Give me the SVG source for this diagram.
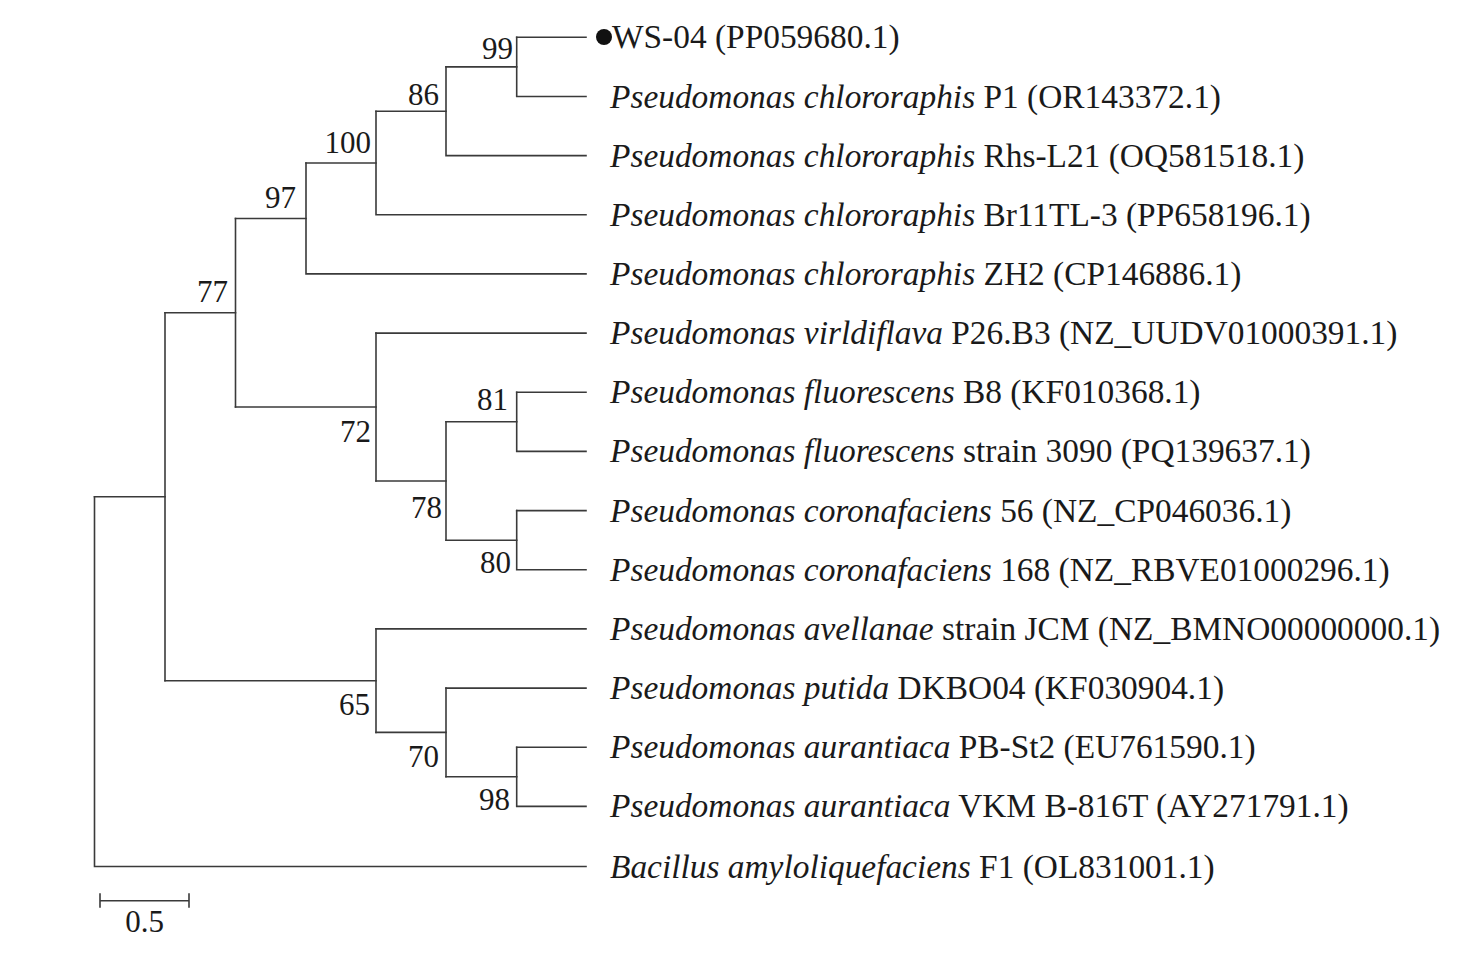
<svg xmlns="http://www.w3.org/2000/svg" width="1457" height="956" viewBox="0 0 1457 956">
<style>
.br{fill:none;stroke:#3a3a3a;stroke-width:1.6;stroke-linecap:square}
.lf{font-family:"Liberation Serif","Times New Roman",serif;font-size:33.4px;fill:#1a1a1a}
.bs{font-family:"Liberation Serif","Times New Roman",serif;font-size:31px;fill:#1a1a1a;text-anchor:end}
.it{font-style:italic}
</style>
<rect width="1457" height="956" fill="#ffffff"/>
<g id="connectors" class="br">
<path d="M94.5,496.7V866.5H586"/>
<path d="M94.5,496.7H165"/>
<path d="M165,312.8V680.7"/>
<path d="M165,312.8H235.5"/>
<path d="M165,680.7H376"/>
<path d="M235.5,218.5V407"/>
<path d="M235.5,218.5H306"/>
<path d="M235.5,407H376"/>
<path d="M306,163V273.9H586"/>
<path d="M306,163H376"/>
<path d="M376,111.3V214.8H586"/>
<path d="M376,111.3H446"/>
<path d="M446,66.9V155.6H586"/>
<path d="M446,66.9H516.7"/>
<path d="M516.7,37.3V96.5H586"/>
<path d="M516.7,37.3H586"/>
<path d="M376,333.1V481"/>
<path d="M376,333.1H586"/>
<path d="M376,481H446"/>
<path d="M446,421.8V540.2"/>
<path d="M446,421.8H516.7"/>
<path d="M446,540.2H516.7"/>
<path d="M516.7,392.3V451.4H586"/>
<path d="M516.7,392.3H586"/>
<path d="M516.7,510.6V569.7H586"/>
<path d="M516.7,510.6H586"/>
<path d="M376,628.9V732.4"/>
<path d="M376,628.9H586"/>
<path d="M376,732.4H446"/>
<path d="M446,688.1V776.8"/>
<path d="M446,688.1H586"/>
<path d="M446,776.8H516.7"/>
<path d="M516.7,747.2V806.4H586"/>
<path d="M516.7,747.2H586"/>
</g>
<g id="bootstrap">
<text class="bs" x="513" y="59">99</text>
<text class="bs" x="439" y="105">86</text>
<text class="bs" x="371" y="152.5">100</text>
<text class="bs" x="296" y="208">97</text>
<text class="bs" x="228" y="302">77</text>
<text class="bs" x="371" y="442">72</text>
<text class="bs" x="442" y="518">78</text>
<text class="bs" x="508" y="409.5">81</text>
<text class="bs" x="511" y="572.5">80</text>
<text class="bs" x="370" y="715">65</text>
<text class="bs" x="439" y="767">70</text>
<text class="bs" x="510" y="809.5">98</text>
</g>
<g id="leaf-ws04"><circle cx="604" cy="37" r="8" fill="#111"/><text class="lf" x="612" y="48">WS-04 (PP059680.1)</text></g>
<g id="leaf-p1"><text class="lf" x="610" y="107.5"><tspan class="it">Pseudomonas chlororaphis</tspan> P1 (OR143372.1)</text></g>
<g id="leaf-rhs"><text class="lf" x="610" y="166.6"><tspan class="it">Pseudomonas chlororaphis</tspan> Rhs-L21 (OQ581518.1)</text></g>
<g id="leaf-br11"><text class="lf" x="610" y="225.8"><tspan class="it">Pseudomonas chlororaphis</tspan> Br11TL-3 (PP658196.1)</text></g>
<g id="leaf-zh2"><text class="lf" x="610" y="285"><tspan class="it">Pseudomonas chlororaphis</tspan> ZH2 (CP146886.1)</text></g>
<g id="leaf-p26"><text class="lf" x="610" y="344.1"><tspan class="it">Pseudomonas virldiflava</tspan> P26.B3 (NZ_UUDV01000391.1)</text></g>
<g id="leaf-b8"><text class="lf" x="610" y="403.3"><tspan class="it">Pseudomonas fluorescens</tspan> B8 (KF010368.1)</text></g>
<g id="leaf-3090"><text class="lf" x="610" y="462.4"><tspan class="it">Pseudomonas fluorescens</tspan> strain 3090 (PQ139637.1)</text></g>
<g id="leaf-56"><text class="lf" x="610" y="521.6"><tspan class="it">Pseudomonas coronafaciens</tspan> 56 (NZ_CP046036.1)</text></g>
<g id="leaf-168"><text class="lf" x="610" y="580.7"><tspan class="it">Pseudomonas coronafaciens</tspan> 168 (NZ_RBVE01000296.1)</text></g>
<g id="leaf-jcm"><text class="lf" x="610" y="639.9"><tspan class="it">Pseudomonas avellanae</tspan> strain JCM (NZ_BMNO00000000.1)</text></g>
<g id="leaf-dkbo"><text class="lf" x="610" y="699.1"><tspan class="it">Pseudomonas putida</tspan> DKBO04 (KF030904.1)</text></g>
<g id="leaf-pbst2"><text class="lf" x="610" y="758.2"><tspan class="it">Pseudomonas aurantiaca</tspan> PB-St2 (EU761590.1)</text></g>
<g id="leaf-vkm"><text class="lf" x="610" y="817.4"><tspan class="it">Pseudomonas aurantiaca</tspan> VKM B-816T (AY271791.1)</text></g>
<g id="leaf-f1"><text class="lf" x="610" y="877.5"><tspan class="it">Bacillus amyloliquefaciens</tspan> F1 (OL831001.1)</text></g>
<g id="scalebar">
<path class="br" d="M100,900.7H189M100,894V907M189,894V907"/>
<text class="bs" x="144.5" y="932" style="text-anchor:middle">0.5</text>
</g>
</svg>
